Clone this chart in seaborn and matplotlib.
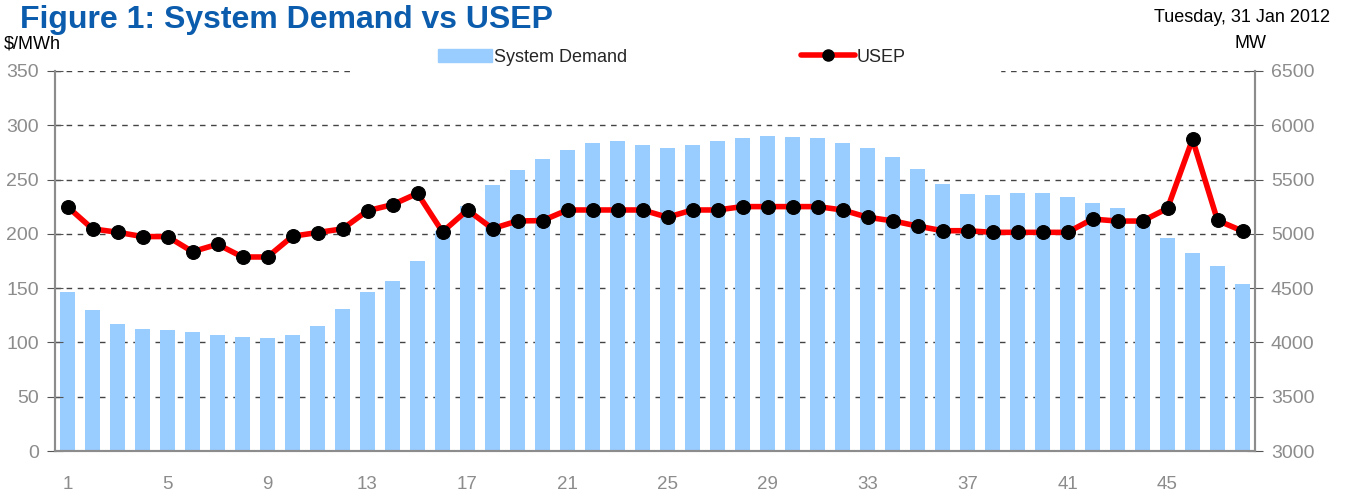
import numpy as np
import matplotlib
matplotlib.use('Agg')
import matplotlib.pyplot as plt
from matplotlib.patches import Patch, Rectangle
from matplotlib.lines import Line2D
import seaborn as sns

# Данные: 48 получасовых периодов
periods = list(range(1, 49))
demand = [4465, 4298, 4169, 4123, 4114, 4095, 4068, 4049, 4040, 4068,
          4151, 4308, 4465, 4566, 4751, 5022, 5260, 5453, 5592, 5693,
          5776, 5840, 5859, 5822, 5794, 5822, 5859, 5886, 5905, 5896,
          5886, 5840, 5794, 5711, 5600, 5462, 5370, 5361, 5379, 5379,
          5342, 5287, 5235, 5125, 4964, 4826, 4706, 4540]
usep = [225.0, 204.6, 201.5, 197.5, 197.5, 183.6, 190.4, 178.7, 178.7, 197.8,
        201.2, 204.6, 221.3, 226.9, 237.3, 201.8, 222.0, 204.8, 211.9, 212.2,
        222.0, 222.0, 222.0, 222.0, 215.3, 222.0, 222.0, 225.1, 225.1, 225.1,
        225.1, 222.0, 215.3, 212.0, 207.2, 202.9, 202.9, 201.4, 201.4, 201.4,
        201.4, 213.6, 211.8, 211.8, 223.5, 287.1, 212.4, 202.6]
xtick_labels = [str(p) for p in periods[::4]]

sns.set_style('white')
plt.rcParams['font.family'] = ['Liberation Sans', 'DejaVu Sans']

grey = '#8c8c8c'
bar_color = '#99ccff'

fig = plt.figure(figsize=(13.45, 4.93), dpi=100)
ax = fig.add_axes([55 / 1345, 42 / 493, 1200 / 1345, 380 / 493])
ax2 = ax.twinx()

# Столбцы: System Demand (правая ось, MW)
sns.barplot(x=periods, y=demand, ax=ax2, color=bar_color, saturation=1,
            width=0.6, linewidth=0)
# Линия: USEP (левая ось, $/MWh)
pos = np.arange(len(periods))
sns.lineplot(x=pos, y=usep, ax=ax, color='red', linewidth=4, marker='o',
             markersize=10, markerfacecolor='black', markeredgecolor='black')

ax.set_zorder(ax2.get_zorder() + 1)
ax.patch.set_visible(False)

ax.set_ylim(0, 350)
ax.set_yticks(range(0, 351, 50))
ax2.set_ylim(3000, 6500)
ax2.set_yticks(range(3000, 6501, 500))
ax.set_xlim(-0.5, len(periods) - 0.5)

ax2.set_axisbelow(True)
ax2.grid(axis='y', color='#444444', linestyle=(0, (4, 4)), linewidth=1)
ax.grid(False)
ax2.add_patch(Rectangle((300 / 1200, 0.97), 645 / 1200, 0.06,
                        transform=ax2.transAxes, color='white',
                        clip_on=False, zorder=1))

ax.set_xticks(pos[::4])
ax.set_xticklabels(xtick_labels)
ax.set_xticks(np.arange(-0.5, len(periods), 1), minor=True)
ax.tick_params(axis='x', which='major', length=0, pad=18,
               labelsize=13.5, labelcolor=grey)
ax.tick_params(axis='x', which='minor', length=9, direction='inout',
               color=grey, width=1)
ax.tick_params(axis='y', length=12, direction='inout', color='#555555',
               labelsize=14, labelcolor=grey, pad=5.5, left=True)
ax2.tick_params(axis='y', length=12, direction='inout', color='#555555',
                labelsize=14, labelcolor=grey, pad=5.5, right=True)
ax.set_xlabel('')
ax.set_ylabel('')
ax2.set_ylabel('')

for a in (ax, ax2):
    a.spines['top'].set_visible(False)
    for s in ('left', 'right', 'bottom'):
        a.spines[s].set_color(grey)
        a.spines[s].set_linewidth(1.5)

fig.text(20 / 1345, 1 - 20 / 493, 'Figure 1: System Demand vs USEP',
         fontsize=23, fontweight='bold', color='#0b5cad',
         ha='left', va='center')
fig.text(4 / 1345, 1 - 44 / 493, '$/MWh', fontsize=13, color='black',
         ha='left', va='center')
fig.text(1330 / 1345, 1 - 18 / 493, 'Tuesday, 31 Jan 2012', fontsize=13,
         color='black', ha='right', va='center')
fig.text(1250 / 1345, 1 - 43 / 493, 'MW', fontsize=13, color='black',
         ha='center', va='center')

handles = [Patch(color=bar_color),
           Line2D([], [], color='red', linewidth=4, marker='o', markersize=8,
                  markerfacecolor='black', markeredgecolor='black')]
fig.legend(handles, ['System Demand', 'USEP'], loc='center',
           bbox_to_anchor=(672 / 1345, 1 - 57 / 493), ncol=2, frameon=False,
           fontsize=13, handlelength=3, handletextpad=0.1,
           columnspacing=9.6)

fig.savefig('out.png', dpi=100)
